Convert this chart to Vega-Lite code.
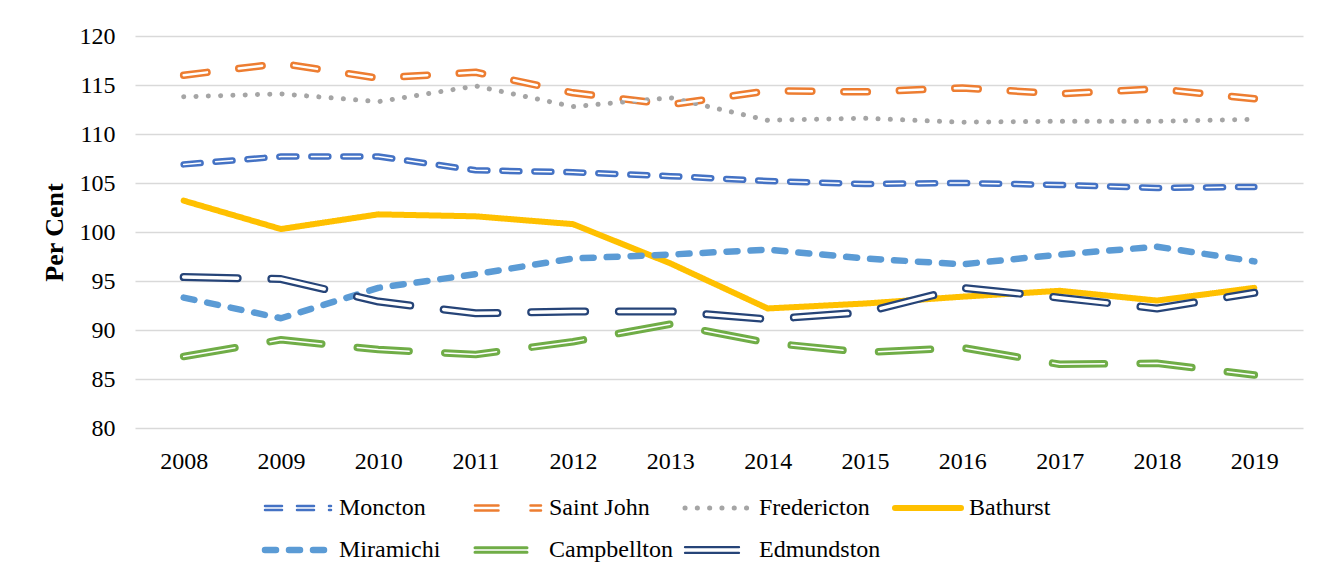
{
  "$schema": "https://vega.github.io/schema/vega-lite/v6.json",
  "width": 1168,
  "height": 392,
  "autosize": {"type": "none"},
  "padding": {"left": 135, "top": 36, "right": 35, "bottom": 149},
  "background": "white",
  "config": {
    "view": {"stroke": null},
    "font": "Liberation Serif"
  },
  "data": {
    "values": [
      {"year": "2008", "city": "Moncton", "v": 106.9},
      {"year": "2009", "city": "Moncton", "v": 107.7},
      {"year": "2010", "city": "Moncton", "v": 107.7},
      {"year": "2011", "city": "Moncton", "v": 106.3},
      {"year": "2012", "city": "Moncton", "v": 106.1},
      {"year": "2013", "city": "Moncton", "v": 105.7},
      {"year": "2014", "city": "Moncton", "v": 105.2},
      {"year": "2015", "city": "Moncton", "v": 104.9},
      {"year": "2016", "city": "Moncton", "v": 105.0},
      {"year": "2017", "city": "Moncton", "v": 104.8},
      {"year": "2018", "city": "Moncton", "v": 104.5},
      {"year": "2019", "city": "Moncton", "v": 104.6},
      {"year": "2008", "city": "Saint John", "v": 116.0},
      {"year": "2009", "city": "Saint John", "v": 117.2},
      {"year": "2010", "city": "Saint John", "v": 115.7},
      {"year": "2011", "city": "Saint John", "v": 116.3},
      {"year": "2012", "city": "Saint John", "v": 114.2},
      {"year": "2013", "city": "Saint John", "v": 113.0},
      {"year": "2014", "city": "Saint John", "v": 114.4},
      {"year": "2015", "city": "Saint John", "v": 114.3},
      {"year": "2016", "city": "Saint John", "v": 114.7},
      {"year": "2017", "city": "Saint John", "v": 114.1},
      {"year": "2018", "city": "Saint John", "v": 114.6},
      {"year": "2019", "city": "Saint John", "v": 113.6},
      {"year": "2008", "city": "Fredericton", "v": 113.8},
      {"year": "2009", "city": "Fredericton", "v": 114.1},
      {"year": "2010", "city": "Fredericton", "v": 113.3},
      {"year": "2011", "city": "Fredericton", "v": 114.9},
      {"year": "2012", "city": "Fredericton", "v": 112.8},
      {"year": "2013", "city": "Fredericton", "v": 113.7},
      {"year": "2014", "city": "Fredericton", "v": 111.4},
      {"year": "2015", "city": "Fredericton", "v": 111.6},
      {"year": "2016", "city": "Fredericton", "v": 111.2},
      {"year": "2017", "city": "Fredericton", "v": 111.3},
      {"year": "2018", "city": "Fredericton", "v": 111.3},
      {"year": "2019", "city": "Fredericton", "v": 111.5},
      {"year": "2008", "city": "Bathurst", "v": 103.2},
      {"year": "2009", "city": "Bathurst", "v": 100.3},
      {"year": "2010", "city": "Bathurst", "v": 101.8},
      {"year": "2011", "city": "Bathurst", "v": 101.6},
      {"year": "2012", "city": "Bathurst", "v": 100.8},
      {"year": "2013", "city": "Bathurst", "v": 96.8},
      {"year": "2014", "city": "Bathurst", "v": 92.2},
      {"year": "2015", "city": "Bathurst", "v": 92.7},
      {"year": "2016", "city": "Bathurst", "v": 93.4},
      {"year": "2017", "city": "Bathurst", "v": 94.0},
      {"year": "2018", "city": "Bathurst", "v": 93.0},
      {"year": "2019", "city": "Bathurst", "v": 94.3},
      {"year": "2008", "city": "Miramichi", "v": 93.3},
      {"year": "2009", "city": "Miramichi", "v": 91.2},
      {"year": "2010", "city": "Miramichi", "v": 94.3},
      {"year": "2011", "city": "Miramichi", "v": 95.7},
      {"year": "2012", "city": "Miramichi", "v": 97.3},
      {"year": "2013", "city": "Miramichi", "v": 97.7},
      {"year": "2014", "city": "Miramichi", "v": 98.2},
      {"year": "2015", "city": "Miramichi", "v": 97.3},
      {"year": "2016", "city": "Miramichi", "v": 96.7},
      {"year": "2017", "city": "Miramichi", "v": 97.7},
      {"year": "2018", "city": "Miramichi", "v": 98.5},
      {"year": "2019", "city": "Miramichi", "v": 97.0},
      {"year": "2008", "city": "Campbellton", "v": 87.3},
      {"year": "2009", "city": "Campbellton", "v": 89.0},
      {"year": "2010", "city": "Campbellton", "v": 88.0},
      {"year": "2011", "city": "Campbellton", "v": 87.5},
      {"year": "2012", "city": "Campbellton", "v": 88.8},
      {"year": "2013", "city": "Campbellton", "v": 90.6},
      {"year": "2014", "city": "Campbellton", "v": 88.7},
      {"year": "2015", "city": "Campbellton", "v": 87.7},
      {"year": "2016", "city": "Campbellton", "v": 88.2},
      {"year": "2017", "city": "Campbellton", "v": 86.5},
      {"year": "2018", "city": "Campbellton", "v": 86.6},
      {"year": "2019", "city": "Campbellton", "v": 85.4},
      {"year": "2008", "city": "Edmundston", "v": 95.4},
      {"year": "2009", "city": "Edmundston", "v": 95.2},
      {"year": "2010", "city": "Edmundston", "v": 92.9},
      {"year": "2011", "city": "Edmundston", "v": 91.7},
      {"year": "2012", "city": "Edmundston", "v": 91.9},
      {"year": "2013", "city": "Edmundston", "v": 91.9},
      {"year": "2014", "city": "Edmundston", "v": 91.1},
      {"year": "2015", "city": "Edmundston", "v": 91.8},
      {"year": "2016", "city": "Edmundston", "v": 94.3},
      {"year": "2017", "city": "Edmundston", "v": 93.3},
      {"year": "2018", "city": "Edmundston", "v": 92.2},
      {"year": "2019", "city": "Edmundston", "v": 93.8}
    ]
  },
  "encoding": {
    "x": {
      "field": "year", "type": "ordinal",
      "scale": {"type": "point", "padding": 0.5},
      "axis": {
        "title": null, "labelAngle": 0, "labelFont": "Liberation Serif", "labelFontSize": 24,
        "labelColor": "#000000", "labelPadding": 21, "ticks": false, "tickSize": 0, "domain": false, "grid": false
      }
    },
    "y": {
      "field": "v", "type": "quantitative",
      "scale": {"domain": [80, 120], "nice": false, "zero": false},
      "axis": {
        "values": [80, 85, 90, 95, 100, 105, 110, 115, 120],
        "title": "Per Cent", "titleFont": "Liberation Serif", "titleFontSize": 26, "titleFontWeight": "bold",
        "titleColor": "#000000", "titlePadding": 12,
        "labelFont": "Liberation Serif", "labelFontSize": 24, "labelColor": "#000000", "labelPadding": 20,
        "ticks": false, "tickSize": 0, "domain": false, "grid": true, "gridColor": "#d9d9d9", "gridWidth": 1.5
      }
    }
  },
  "layer": [
    {
      "mark": {"type": "line", "strokeCap": "round", "strokeJoin": "round"},
      "encoding": {
        "color": {
          "field": "city", "type": "nominal",
          "scale": {
            "domain": ["Moncton", "Saint John", "Fredericton", "Bathurst", "Miramichi", "Campbellton", "Edmundston"],
            "range": ["#4472C4", "#ED7D31", "#A5A5A5", "#FFC000", "#5B9BD5", "#70AD47", "#264478"]
          },
          "legend": {
            "title": null, "orient": "none", "legendX": 130, "legendY": 459, "direction": "horizontal",
            "columns": 4, "gridAlign": "all", "symbolType": "stroke", "symbolSize": 100,
            "labelFont": "Liberation Serif", "labelFontSize": 24, "labelColor": "#000000", "labelOffset": 50,
            "labelLimit": 400, "columnPadding": 0, "rowPadding": 16, "padding": 0,
            "encode": {"symbols": {"update": {
              "size": {"value": 100},
              "strokeCap": {"value": "round"},
              "shape": {"signal": "datum.value === 'Moncton' ? 'M-2.4,-0.4L10.8,-0.4M-2.4,0.4L10.8,0.4' : datum.value === 'Saint John' ? 'M-2.4,-0.5L10.8,-0.5M-2.4,0.5L10.8,0.5' : datum.value === 'Campbellton' ? 'M-2.4,-0.45L10.8,-0.45M-2.4,0.45L10.8,0.45' : datum.value === 'Edmundston' ? 'M-2.4,-0.575L10.8,-0.575M-2.4,0.575L10.8,0.575' : 'M-2.4,0.01L10.8,0.01'"},
              "strokeWidth": {"signal": "datum.value === 'Moncton' ? 2.5 : datum.value === 'Saint John' ? 2.5 : datum.value === 'Campbellton' ? 3 : datum.value === 'Edmundston' ? 2.25 : datum.value === 'Fredericton' ? 5 : datum.value === 'Bathurst' ? 6 : 6.5"}
            }}}
          }
        },
        "strokeDash": {
          "field": "city", "type": "nominal",
          "scale": {
            "domain": ["Moncton", "Saint John", "Fredericton", "Bathurst", "Miramichi", "Campbellton", "Edmundston"],
            "range": [[17, 15], [23.5, 32], [0.1, 12.2], [1, 0], [11, 13], [52, 35.7], [54, 33.7]]
          }
        },
        "size": {
          "field": "city", "type": "nominal",
          "scale": {
            "type": "ordinal",
            "domain": ["Moncton", "Saint John", "Fredericton", "Bathurst", "Miramichi", "Campbellton", "Edmundston", "~"],
            "range": [6.5, 7.5, 5, 6, 6.5, 7.5, 8, 1]
          },
          "legend": null
        }
      }
    },
    {
      "mark": {"type": "line", "strokeCap": "round", "strokeJoin": "round"},
      "encoding": {
        "stroke": {"value": "#ffffff"},
        "strokeDash": {
          "field": "city", "type": "nominal",
          "scale": {
            "domain": ["Moncton", "Saint John", "Fredericton", "Bathurst", "Miramichi", "Campbellton", "Edmundston"],
            "range": [[17, 15], [23.5, 32], [0.1, 12.2], [1, 0], [11, 13], [52, 35.7], [54, 33.7]]
          }
        },
        "strokeWidth": {
          "field": "city", "type": "nominal",
          "scale": {
            "type": "ordinal",
            "domain": ["Moncton", "Saint John", "Fredericton", "Bathurst", "Miramichi", "Campbellton", "Edmundston", "~~"],
            "range": [1.5, 2.5, 0, 0, 0, 1.5, 3.5, 0]
          },
          "legend": null
        }
      }
    }
  ]
}
